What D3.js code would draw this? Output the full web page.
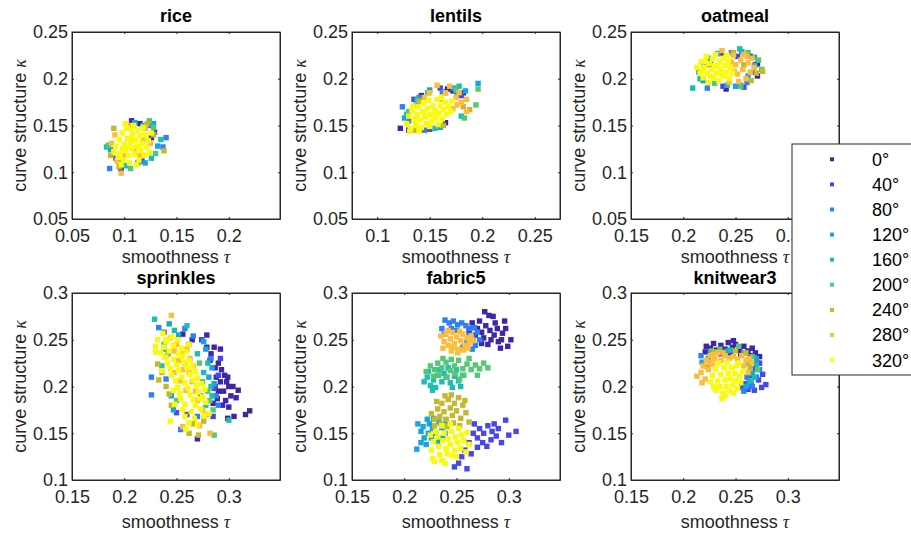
<!DOCTYPE html>
<html>
<head>
<meta charset="utf-8">
<script src="https://cdn.jsdelivr.net/npm/d3@7"></script>
<style>
  body { margin: 0; background: #fff; }
  svg { display: block; }
</style>
</head>
<body>
<div id="chart"></div>
<script>
const angles = [0, 40, 80, 120, 160, 200, 240, 280, 320];
const angleColors = ["#3e26a8", "#4747eb", "#2f7ff8", "#17a5e0", "#1fbcb4", "#55c873", "#c4b82c", "#fdbd3c", "#f9fb0e"];

const panelNames = ["rice", "lentils", "oatmeal", "sprinkles", "fabric5", "knitwear3"];
const xLimits = [[0.05, 0.249], [0.076, 0.274], [0.15, 0.349], [0.15, 0.349], [0.15, 0.349], [0.15, 0.349]];
const yLimits = [[0.05, 0.25], [0.05, 0.25], [0.05, 0.25], [0.1, 0.3], [0.1, 0.3], [0.1, 0.3]];
const xTicks = [[0.05, 0.1, 0.15, 0.2], [0.1, 0.15, 0.2, 0.25], [0.15, 0.2, 0.25, 0.3],
                [0.15, 0.2, 0.25, 0.3], [0.15, 0.2, 0.25, 0.3], [0.15, 0.2, 0.25, 0.3]];
const yTicks = [[0.05, 0.1, 0.15, 0.2, 0.25], [0.05, 0.1, 0.15, 0.2, 0.25], [0.05, 0.1, 0.15, 0.2, 0.25],
                [0.1, 0.15, 0.2, 0.25, 0.3], [0.1, 0.15, 0.2, 0.25, 0.3], [0.1, 0.15, 0.2, 0.25, 0.3]];

// each panel: one list of [tau, kappa] per angle, 0° ... 320°
const rice = [
  [[.107,.155],[.097,.104],[.115,.152],[.126,.137]],
  [[.097,.103],[.117,.112],[.129,.143],[.092,.115]],
  [[.086,.104],[.140,.137],[.137,.127],[.113,.110],[.124,.150]],
  [[.087,.124],[.128,.152],[.110,.153],[.132,.128],[.096,.111],[.120,.110]],
  [[.083,.127],[.135,.135],[.101,.107],[.118,.150],[.126,.115]],
  [[.085,.129],[.106,.104],[.124,.155],[.130,.120],[.128,.148]],
  [[.090,.147],[.138,.123],[.128,.140],[.095,.106],[.122,.152],[.087,.118]],
  [[.088,.131],[.091,.140],[.097,.099],[.105,.150],[.115,.118],[.118,.135],[.120,.147],[.110,.125],[.100,.118],[.125,.131],[.093,.112]],
  [[.092,.128],[.095,.135],[.096,.120],[.098,.142],[.099,.113],[.100,.130],[.101,.124],[.102,.147],[.103,.136],[.104,.118],
   [.105,.110],[.106,.131],[.107,.125],[.108,.141],[.109,.150],[.110,.119],[.111,.134],[.112,.128],[.113,.145],[.114,.113],
   [.115,.139],[.116,.123],[.117,.131],[.118,.148],[.119,.118],[.120,.140],[.121,.127],[.123,.134],[.124,.121],[.097,.108],
   [.094,.116],[.090,.122],[.106,.146],[.101,.152],[.112,.108],[.126,.142],[.108,.136],[.103,.127],[.114,.126],[.098,.125]]
];

const lentils = [
  [[.122,.147],[.167,.189],[.182,.185],[.142,.182],[.165,.153],[.172,.187]],
  [[.130,.145],[.160,.190],[.180,.182],[.150,.146],[.135,.178]],
  [[.124,.170],[.140,.180],[.162,.186],[.176,.183],[.130,.155],[.145,.145]],
  [[.196,.195],[.126,.158],[.160,.148],[.184,.187],[.150,.188],[.137,.172],[.173,.190]],
  [[.155,.147],[.128,.162],[.180,.160],[.165,.185],[.138,.178],[.178,.192]],
  [[.196,.189],[.194,.172],[.130,.165],[.183,.158],[.175,.188],[.148,.185]],
  [[.188,.167],[.163,.150],[.140,.176],[.182,.170],[.135,.145]],
  [[.157,.193],[.169,.192],[.175,.180],[.180,.175],[.185,.178],[.172,.168],[.165,.185],[.178,.185],[.150,.185],[.145,.180],
   [.185,.165],[.160,.178],[.176,.172]],
  [[.128,.152],[.130,.160],[.132,.147],[.133,.166],[.135,.155],[.137,.150],[.138,.162],[.139,.170],[.141,.156],[.142,.148],
   [.143,.165],[.144,.174],[.146,.159],[.147,.152],[.148,.168],[.149,.177],[.151,.162],[.152,.155],[.153,.171],[.155,.166],
   [.156,.158],[.157,.178],[.159,.163],[.160,.171],[.162,.157],[.163,.167],[.165,.175],[.166,.162],[.168,.170],[.170,.165],
   [.136,.158],[.145,.163],[.150,.149],[.154,.161],[.140,.144],[.131,.144],[.134,.171],[.161,.180],[.171,.176],[.158,.151]]
];

const oatmeal = [
  [[.241,.189],[.271,.216],[.271,.203],[.226,.215],[.264,.224],[.236,.227]],
  [[.258,.191],[.220,.215],[.269,.215],[.238,.192],[.252,.224]],
  [[.223,.190],[.261,.196],[.266,.207],[.215,.207],[.255,.193],[.246,.228]],
  [[.256,.229],[.268,.223],[.219,.198],[.250,.192],[.233,.227],[.262,.203]],
  [[.209,.190],[.216,.200],[.254,.232],[.224,.222],[.268,.214],[.242,.193]],
  [[.275,.210],[.272,.220],[.255,.192],[.230,.195],[.262,.228]],
  [[.270,.206],[.276,.208],[.258,.215],[.265,.198],[.248,.228]],
  [[.237,.230],[.248,.225],[.250,.215],[.252,.205],[.255,.220],[.257,.210],[.260,.200],[.262,.217],[.264,.207],[.266,.222],
   [.258,.226],[.253,.197],[.246,.218],[.268,.212],[.261,.224],[.249,.208],[.244,.196]],
  [[.213,.212],[.216,.206],[.217,.218],[.219,.201],[.220,.212],[.222,.224],[.223,.206],[.224,.196],[.225,.216],[.227,.210],
   [.228,.221],[.229,.201],[.230,.214],[.231,.226],[.232,.206],[.234,.198],[.235,.218],[.236,.210],[.238,.222],[.239,.203],
   [.240,.214],[.241,.207],[.243,.219],[.244,.200],[.245,.212],[.226,.203],[.233,.213],[.237,.204],[.221,.218],[.242,.225],
   [.218,.209],[.247,.206]]
];

const sprinkles = [
  [[.279,.255],[.256,.256],[.279,.242],[.286,.242],[.309,.196],[.307,.188],[.320,.174],[.316,.170],[.305,.168],[.299,.166],
   [.270,.144],[.290,.225],[.293,.218],[.296,.212],[.298,.205],[.300,.200],[.292,.205],[.288,.210],[.295,.195],[.302,.190],
   [.297,.185],[.290,.195],[.294,.180],[.300,.178],[.287,.220],[.283,.235],[.292,.240],[.304,.200],[.289,.187],[.285,.182],
   [.299,.210],[.265,.250],[.282,.228],[.287,.200]],
  [[.250,.172],[.290,.212],[.292,.230],[.286,.198],[.238,.258],[.274,.250],[.285,.168],[.260,.170]],
  [[.233,.263],[.226,.210],[.226,.191],[.254,.154],[.288,.190],[.290,.180],[.258,.262],[.240,.208],[.283,.230],[.266,.254],
   [.270,.168]],
  [[.243,.267],[.247,.175],[.262,.245],[.278,.240],[.281,.210],[.284,.220],[.238,.240],[.252,.255],[.273,.190],[.286,.203],
   [.245,.190],[.276,.248]],
  [[.229,.272],[.260,.265],[.300,.164],[.276,.215],[.280,.225],[.283,.200],[.248,.260],[.236,.222],[.270,.235],[.278,.180],
   [.284,.190]],
  [[.286,.148],[.242,.235],[.275,.205],[.280,.195],[.282,.185],[.250,.185],[.272,.225],[.238,.245],[.285,.175]],
  [[.232,.224],[.233,.207],[.271,.148],[.240,.200],[.245,.180],[.276,.163],[.262,.150],[.236,.215],[.279,.170],[.243,.192],
   [.266,.160]],
  [[.245,.276],[.250,.245],[.255,.235],[.258,.225],[.262,.215],[.248,.238],[.265,.205],[.256,.218],[.252,.228],[.268,.195],
   [.244,.252],[.260,.240],[.256,.157],[.270,.185],[.275,.175],[.240,.232],[.263,.230],[.272,.158],[.282,.150],[.254,.206],
   [.266,.222],[.259,.196],[.248,.215]],
  [[.237,.257],[.245,.253],[.232,.250],[.240,.248],[.251,.250],[.230,.243],[.238,.242],[.247,.244],[.255,.241],[.235,.236],
   [.243,.238],[.252,.235],[.259,.237],[.239,.231],[.247,.229],[.255,.232],[.262,.228],[.241,.225],[.250,.223],[.257,.226],
   [.265,.222],[.244,.219],[.252,.217],[.260,.220],[.268,.216],[.245,.212],[.255,.210],[.263,.213],[.270,.209],[.249,.206],
   [.258,.204],[.266,.207],[.274,.203],[.251,.199],[.261,.198],[.269,.201],[.277,.197],[.253,.193],[.263,.191],[.271,.194],
   [.254,.187],[.266,.186],[.275,.189],[.258,.181],[.268,.180],[.278,.183],[.256,.175],[.264,.173],[.273,.176],[.258,.168],
   [.267,.166],[.276,.169],[.262,.161],[.270,.159],[.259,.154],[.230,.237],[.244,.163],[.236,.217],[.281,.171],[.248,.181],
   [.240,.250],[.262,.245],[.272,.187],[.247,.196]]
];

const fabric5 = [
  [[.277,.280],[.281,.276],[.296,.270],[.302,.250],[.299,.243],[.292,.241],[.265,.268],[.270,.262],[.274,.258],[.278,.265],
   [.282,.260],[.286,.255],[.289,.262],[.283,.250],[.276,.252],[.290,.248],[.294,.257],[.272,.270],[.287,.268],[.280,.245],
   [.297,.262],[.268,.255],[.285,.275],[.274,.246],[.262,.260],[.293,.250]],
  [[.267,.160],[.272,.155],[.276,.150],[.280,.158],[.284,.152],[.288,.147],[.270,.145],[.275,.140],[.279,.136],[.283,.143],
   [.266,.150],[.262,.140],[.258,.132],[.255,.125],[.252,.118],[.248,.114],[.260,.112],[.297,.164],[.307,.152],[.293,.140],
   [.290,.155],[.264,.128],[.270,.135],[.286,.160],[.300,.148]],
  [[.239,.271],[.243,.268],[.247,.270],[.251,.266],[.255,.268],[.259,.265],[.263,.262],[.267,.263],[.270,.258],[.272,.250],
   [.268,.244],[.265,.240],[.236,.262],[.238,.256],[.262,.255],[.260,.247],[.256,.242],[.245,.262],[.250,.260],[.266,.252]],
  [[.213,.160],[.212,.133],[.216,.152],[.219,.145],[.221,.138],[.224,.160],[.227,.155],[.230,.150],[.233,.162],[.236,.156],
   [.239,.150],[.222,.165],[.218,.157],[.240,.163],[.226,.145],[.232,.141],[.237,.145],[.216,.140],[.228,.166],[.223,.150]],
  [[.219,.205],[.222,.210],[.225,.201],[.228,.207],[.232,.212],[.236,.205],[.240,.210],[.244,.204],[.248,.211],[.252,.206],
   [.256,.212],[.230,.199],[.234,.218],[.242,.220],[.250,.218],[.223,.216],[.238,.214],[.246,.199],[.227,.196],[.254,.200]],
  [[.221,.216],[.225,.222],[.229,.218],[.232,.225],[.236,.220],[.240,.226],[.244,.217],[.248,.222],[.252,.228],[.256,.219],
   [.260,.224],[.264,.218],[.268,.223],[.272,.219],[.276,.225],[.280,.220],[.233,.212],[.241,.210],[.249,.214],[.257,.212],
   [.245,.229],[.237,.230],[.228,.211],[.262,.230],[.253,.208],[.270,.212]],
  [[.226,.171],[.229,.165],[.232,.176],[.234,.168],[.236,.182],[.238,.173],[.240,.165],[.242,.186],[.244,.177],[.246,.169],
   [.248,.182],[.250,.174],[.252,.188],[.254,.166],[.256,.180],[.229,.158],[.235,.160],[.241,.157],[.247,.161],[.253,.158],
   [.259,.172],[.262,.162],[.258,.185],[.231,.184],[.239,.190],[.245,.191]],
  [[.235,.254],[.238,.248],[.240,.256],[.242,.244],[.244,.251],[.246,.258],[.248,.246],[.250,.253],[.252,.240],[.254,.249],
   [.256,.256],[.258,.244],[.260,.252],[.262,.247],[.264,.254],[.266,.249],[.245,.238],[.251,.236],[.257,.239],[.237,.241],
   [.242,.260],[.253,.259],[.247,.242],[.261,.241]],
  [[.225,.148],[.228,.141],[.226,.132],[.227,.123],[.230,.152],[.232,.146],[.233,.136],[.234,.127],[.236,.121],[.237,.142],
   [.238,.150],[.240,.134],[.241,.128],[.242,.144],[.244,.138],[.245,.152],[.246,.126],[.248,.132],[.249,.146],[.251,.140],
   [.252,.155],[.254,.134],[.255,.148],[.257,.142],[.259,.130],[.260,.151],[.262,.138],[.229,.120],[.239,.118],[.250,.125],
   [.244,.160],[.236,.158]]
];

const knitwear3 = [
  [[.222,.243],[.226,.241],[.229,.246],[.232,.239],[.236,.244],[.240,.240],[.243,.247],[.247,.242],[.250,.245],[.254,.239],
   [.258,.243],[.262,.238],[.266,.241],[.269,.236],[.236,.235],[.245,.236],[.255,.234],[.221,.237],[.273,.232],[.264,.233],
   [.271,.225],[.248,.249]],
  [[.275,.199],[.279,.202],[.272,.207],[.268,.196],[.256,.199],[.262,.197],[.276,.213],[.269,.219],[.264,.212],[.259,.203],
   [.273,.225],[.265,.202]],
  [[.217,.233],[.273,.218],[.266,.200],[.258,.195],[.226,.237],[.270,.210],[.261,.210]],
  [[.263,.205],[.218,.226],[.266,.214],[.242,.238],[.260,.200],[.270,.230]],
  [[.268,.210],[.224,.230],[.258,.236],[.245,.239],[.265,.206],[.270,.224]],
  [[.253,.243],[.271,.218],[.266,.232],[.227,.238],[.262,.225],[.235,.240]],
  [[.223,.221],[.260,.236],[.250,.238],[.230,.237],[.264,.220]],
  [[.213,.211],[.217,.215],[.219,.222],[.222,.228],[.224,.218],[.226,.233],[.228,.224],[.230,.230],[.233,.236],[.236,.228],
   [.240,.233],[.244,.230],[.248,.232],[.252,.229],[.256,.233],[.260,.228],[.263,.230],[.221,.208],[.225,.226],[.238,.236],
   [.229,.234],[.258,.222],[.262,.215],[.218,.204],[.265,.226]],
  [[.226,.205],[.228,.212],[.230,.198],[.231,.219],[.233,.206],[.234,.225],[.235,.200],[.236,.213],[.238,.193],[.239,.220],
   [.240,.207],[.241,.200],[.242,.226],[.243,.214],[.244,.195],[.245,.208],[.246,.220],[.247,.201],[.249,.214],[.250,.206],
   [.251,.222],[.252,.198],[.254,.211],[.255,.204],[.257,.216],[.232,.196],[.237,.187],[.229,.200],[.248,.193],[.253,.225],
   [.240,.190]]
];

const panelData = [rice, lentils, oatmeal, sprinkles, fabric5, knitwear3];

const width = 911, height = 536;
const boxW = 208, boxH = 187;
const colLeft = [72, 352, 631];
const rowTop = [32, 293];
const fontFamily = "'Liberation Sans', Arial, Helvetica, sans-serif";
const ink = "#262626";
const markSize = 5.4;

const svg = d3.select("#chart").append("svg")
    .attr("width", width)
    .attr("height", height)
    .style("background", "#fff");

panelNames.forEach((name, i) => {
    const col = i % 3, row = Math.floor(i / 3);
    const g = svg.append("g")
        .attr("transform", `translate(${colLeft[col]},${rowTop[row]})`);

    const x = d3.scaleLinear().domain(xLimits[i]).range([0, boxW]);
    const y = d3.scaleLinear().domain(yLimits[i]).range([boxH, 0]);
    const fmt = d => String(+d.toFixed(2));

    g.append("rect")
        .attr("width", boxW).attr("height", boxH)
        .attr("fill", "#fff");

    // points, 0° first so 320° sits on top
    panelData[i].forEach((series, k) => {
        g.append("g")
            .selectAll("rect")
            .data(series)
          .enter().append("rect")
            .attr("x", d => x(d[0]) - markSize / 2)
            .attr("y", d => y(d[1]) - markSize / 2)
            .attr("width", markSize)
            .attr("height", markSize)
            .attr("fill", angleColors[k]);
    });

    const styleAxis = sel => {
        sel.attr("font-family", fontFamily).attr("font-size", 18);
        sel.selectAll("line").attr("stroke", ink);
        sel.selectAll("path").attr("stroke", ink);
        sel.selectAll("text").attr("fill", ink);
    };

    g.append("g")
        .attr("transform", `translate(0,${boxH})`)
        .call(d3.axisBottom(x).tickValues(xTicks[i]).tickFormat(fmt)
            .tickSizeInner(-2).tickSizeOuter(0).tickPadding(10.5))
        .call(styleAxis);
    g.append("g")
        .call(d3.axisLeft(y).tickValues(yTicks[i]).tickFormat(fmt)
            .tickSizeInner(-2).tickSizeOuter(0).tickPadding(4))
        .call(styleAxis);
    g.append("g")
        .call(d3.axisTop(x).tickValues(xTicks[i]).tickFormat("")
            .tickSizeInner(-2).tickSizeOuter(0))
        .call(styleAxis);
    g.append("g")
        .attr("transform", `translate(${boxW},0)`)
        .call(d3.axisRight(y).tickValues(yTicks[i]).tickFormat("")
            .tickSizeInner(-2).tickSizeOuter(0))
        .call(styleAxis);

    g.append("rect")
        .attr("width", boxW).attr("height", boxH)
        .attr("fill", "none")
        .attr("stroke", ink);

    g.append("text")
        .attr("x", boxW / 2)
        .attr("y", row === 0 ? -10 : -9)
        .attr("text-anchor", "middle")
        .attr("font-family", fontFamily)
        .attr("font-size", 18)
        .attr("font-weight", "bold")
        .attr("fill", "#000")
        .text(name);

    const xl = g.append("text")
        .attr("x", boxW / 2)
        .attr("y", boxH + (row === 0 ? 44 : 48))
        .attr("text-anchor", "middle")
        .attr("font-family", fontFamily)
        .attr("font-size", 18)
        .attr("fill", ink)
        .text("smoothness ");
    xl.append("tspan").attr("font-style", "italic").attr("font-family", "'Liberation Serif', serif").text("τ");

    const yl = g.append("text")
        .attr("transform", `translate(-46,${boxH / 2}) rotate(-90)`)
        .attr("text-anchor", "middle")
        .attr("font-family", fontFamily)
        .attr("font-size", 18)
        .attr("fill", ink)
        .text("curve structure ");
    yl.append("tspan").attr("font-style", "italic").attr("font-family", "'Liberation Serif', serif").text("κ");
});

// legend
const legend = svg.append("g").attr("transform", "translate(792,144)");
legend.append("rect")
    .attr("width", 140).attr("height", 231)
    .attr("fill", "#fff")
    .attr("stroke", ink);
const rows = legend.selectAll(".entry")
    .data(angles)
  .enter().append("g")
    .attr("class", "entry")
    .attr("transform", (d, k) => `translate(0,${15.3 + k * 25.1})`);
rows.append("rect")
    .attr("x", 38).attr("y", -2)
    .attr("width", 4).attr("height", 4)
    .attr("fill", (d, k) => angleColors[k]);
rows.append("text")
    .attr("x", 80)
    .attr("dy", "0.36em")
    .attr("font-family", fontFamily)
    .attr("font-size", 18)
    .attr("fill", "#000")
    .text(d => d + "°");
</script>
</body>
</html>
